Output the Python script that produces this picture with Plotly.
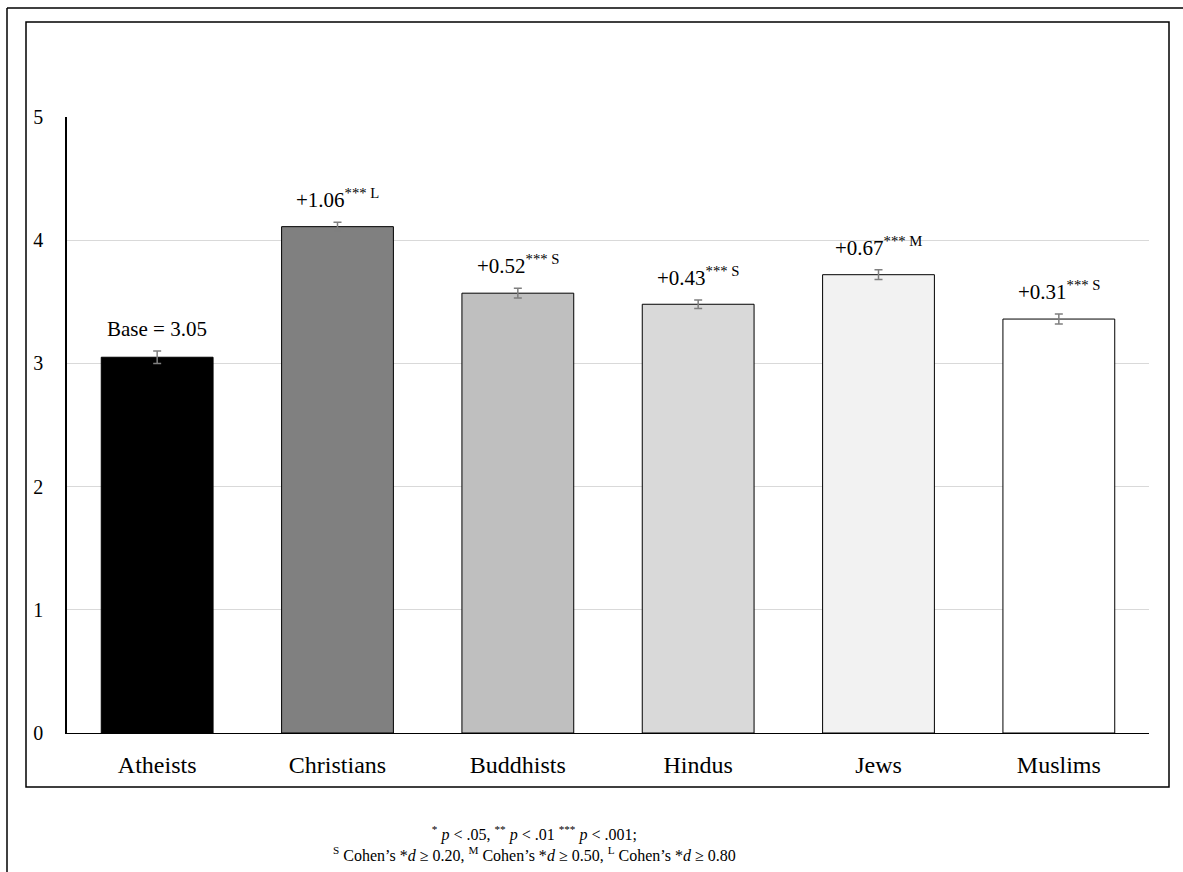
import plotly.graph_objects as go

categories = ["Atheists", "Christians", "Buddhists", "Hindus", "Jews", "Muslims"]
means = [3.05, 4.11, 3.57, 3.48, 3.72, 3.36]
errors = [0.05, 0.035, 0.04, 0.035, 0.04, 0.04]
labels = ["Base = 3.05", "+1.06<sup>*** L</sup>", "+0.52<sup>*** S</sup>",
          "+0.43<sup>*** S</sup>", "+0.67<sup>*** M</sup>", "+0.31<sup>*** S</sup>"]
colors = ["#000000", "#808080", "#bfbfbf", "#d9d9d9", "#f2f2f2", "#ffffff"]
footnote = ("<sup>*</sup> <i>p</i> &lt; .05, <sup>**</sup> <i>p</i> &lt; .01 <sup>***</sup> <i>p</i> &lt; .001;<br>"
            "<sup>S</sup> Cohen’s *<i>d</i> ≥ 0.20, <sup>M</sup> Cohen’s *<i>d</i> ≥ 0.50, "
            "<sup>L</sup> Cohen’s *<i>d</i> ≥ 0.80")

FONT = "Liberation Serif, Times New Roman, serif"
W, H = 1183, 872
ML, MR, MT, MB = 67, 34, 117, 139
PW, PH = W - ML - MR, H - MT - MB

def px_x(p):
    return (p - ML) / PW

def px_y(p):
    return (H - MB - p) / PH

fig = go.Figure()
fig.add_trace(go.Bar(
    x=categories, y=means,
    marker=dict(color=colors, line=dict(color="#000000", width=1)),
    width=0.62,
    error_y=dict(type="data", array=errors, visible=True, color="#7f7f7f", thickness=1.5, width=4),
    showlegend=False, hoverinfo="skip",
))

for c, m, e, t in zip(categories, means, errors, labels):
    fig.add_annotation(x=c, y=m + e, text=t, showarrow=False, yanchor="bottom",
                       yshift=8, font=dict(family=FONT, size=21, color="#000000"))

fig.add_annotation(xref="paper", yref="paper", x=px_x(534), y=px_y(843), text=footnote,
                   showarrow=False, xanchor="center", yanchor="middle", align="center",
                   font=dict(family=FONT, size=16, color="#000000"))

# inner frame
fig.add_shape(type="rect", xref="paper", yref="paper",
              x0=px_x(26), x1=px_x(1169), y0=px_y(787), y1=px_y(22),
              line=dict(color="#000000", width=1.5), fillcolor="rgba(0,0,0,0)", layer="above")
# outer frame (left and top edges)
fig.add_shape(type="line", xref="paper", yref="paper",
              x0=px_x(7), x1=px_x(7), y0=px_y(900), y1=px_y(8),
              line=dict(color="#000000", width=1.5))
fig.add_shape(type="line", xref="paper", yref="paper",
              x0=px_x(7), x1=px_x(1200), y0=px_y(8), y1=px_y(8),
              line=dict(color="#000000", width=1.5))

fig.update_layout(
    width=W, height=H,
    margin=dict(l=ML, r=MR, t=MT, b=MB, pad=0),
    paper_bgcolor="#ffffff", plot_bgcolor="#ffffff",
    font=dict(family=FONT, color="#000000"),
    bargap=0.38,
)
fig.update_xaxes(range=[-0.5, 5.5], showline=True, linecolor="#000000", linewidth=1,
                 ticks="", showgrid=False, tickfont=dict(family=FONT, size=24, color="#000000"),
                 ticklabelstandoff=10)
fig.update_yaxes(range=[0, 5], dtick=1, showline=True, linecolor="#000000", linewidth=1.5,
                 showgrid=True, gridcolor="#d9d9d9", gridwidth=1, zeroline=False, ticks="",
                 tickfont=dict(family=FONT, size=20, color="#000000"), ticklabelstandoff=18)

fig.write_html("out.html", config={"displayModeBar": False},
               post_script="document.body.style.margin='0';")
